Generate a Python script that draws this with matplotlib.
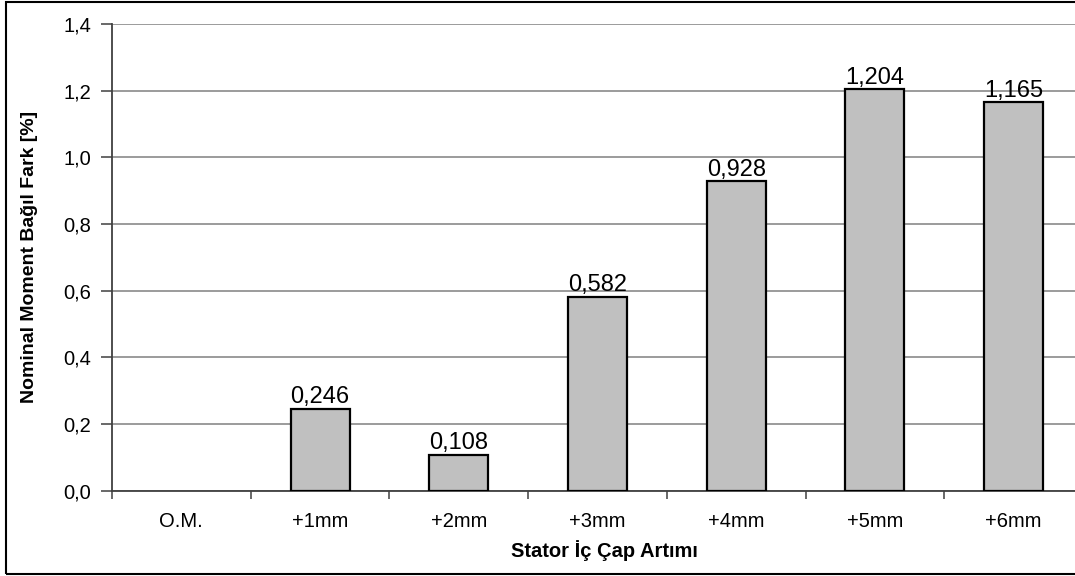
import matplotlib
matplotlib.use("Agg")
import matplotlib.pyplot as plt
from matplotlib.ticker import FuncFormatter, FixedLocator
from matplotlib.patches import Rectangle

categories = ["O.M.", "+1mm", "+2mm", "+3mm", "+4mm", "+5mm", "+6mm"]
values = [0.0, 0.246, 0.108, 0.582, 0.928, 1.204, 1.165]
value_labels = ["", "0,246", "0,108", "0,582", "0,928", "1,204", "1,165"]
y_ticks = [0.0, 0.2, 0.4, 0.6, 0.8, 1.0, 1.2, 1.4]

plt.rcParams['font.family'] = ['Liberation Sans', 'DejaVu Sans']

W, H = 1075, 576
fig = plt.figure(figsize=(W / 100, H / 100), dpi=100)
fig.patch.set_facecolor('white')

# outer frame
fig.patches.append(Rectangle((6 / W, 2 / H), 1.05, (574 - 2) / H, transform=fig.transFigure,
                             fill=False, edgecolor='black', linewidth=1.5, zorder=0))

left, right = 112, 1083
top, bottom = 24, 490.7
ax = fig.add_axes([left / W, (H - bottom) / H, (right - left) / W, (bottom - top) / H])

x = list(range(len(categories)))
edge_colors = ['black' if v > 0 else 'none' for v in values]
ax.bar(x, values, width=0.425, color='#C0C0C0', edgecolor=edge_colors, linewidth=1.6, zorder=3)

for xi, v, lab in zip(x, values, value_labels):
    if lab:
        ax.annotate(lab, (xi, v), xytext=(0, 3.8), textcoords='offset points',
                    ha='center', va='baseline', fontsize=17, color='black', zorder=4)

ax.set_xlim(-0.5, len(categories) - 0.5)
ax.set_ylim(0, 1.4)
ax.set_yticks(y_ticks)
ax.yaxis.set_major_formatter(FuncFormatter(lambda v, p: f"{v:.1f}".replace('.', ',')))
ax.yaxis.grid(True, color='#808080', linewidth=1.1, zorder=0)
ax.set_axisbelow(True)

ax.set_xticks(x)
ax.set_xticklabels(categories)
ax.xaxis.set_minor_locator(FixedLocator([i - 0.5 for i in range(len(categories) + 1)]))
ax.tick_params(axis='x', which='major', length=0, labelsize=14.5, pad=15.5)
ax.tick_params(axis='x', which='minor', length=6, width=1.1, color='#404040', direction='out')
ax.tick_params(axis='y', length=8, width=1.1, color='#404040', labelsize=14.5, pad=7, direction='out')

for s in ['top', 'right']:
    ax.spines[s].set_visible(False)
for s in ['left', 'bottom']:
    ax.spines[s].set_color('#404040')
    ax.spines[s].set_linewidth(1.3)

fig.text(30 / W, 1 - 257 / H, "Nominal Moment Bağıl Fark [%]", rotation=90,
         ha='center', va='center', fontsize=14, fontweight='bold')
fig.text(604 / W, 1 - 551 / H, "Stator İç Çap Artımı", ha='center', va='center',
         fontsize=14.5, fontweight='bold')

fig.savefig("out.png", dpi=100)
